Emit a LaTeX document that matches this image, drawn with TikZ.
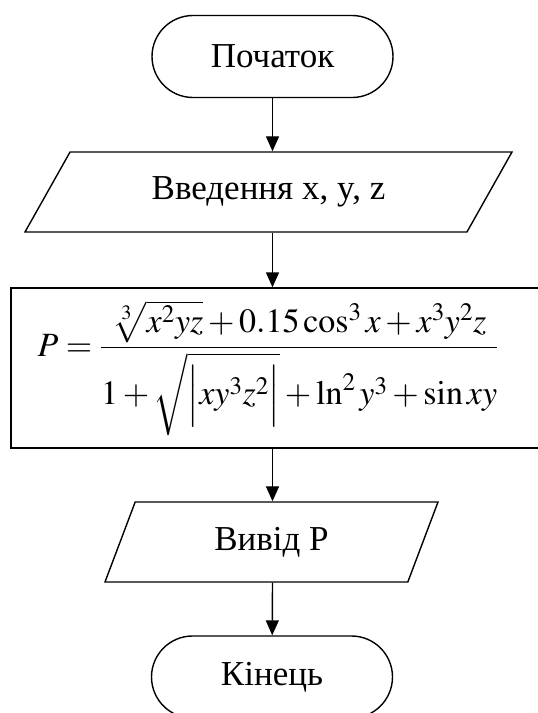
\documentclass[tikz,border=0pt]{standalone}
\usepackage{amsmath}
\usepackage{mathptmx}
\usepackage{fontspec}
\setmainfont{Liberation Serif}
\usetikzlibrary{shapes.geometric, arrows.meta, positioning}

\begin{document}
\begin{tikzpicture}[
    x=1pt, y=-1pt,
    every node/.style={line width=1.4pt, font=\fontsize{35}{40}\selectfont},
    term/.style={rectangle, draw, rounded corners=41pt, minimum width=241pt,
                 minimum height=82pt},
    io/.style={trapezium, draw, trapezium stretches body, minimum height=80pt},
    calc/.style={rectangle, draw, minimum height=160pt, minimum width=540pt,
                 inner sep=0pt, font=\fontsize{34}{38}\selectfont},
    arrow/.style={-{Triangle[length=15pt, width=13pt]}, line width=1.4pt}
]
\clip (0,0) rectangle (538,713);
\node[term] (start) at (272.5,56.5) {Початок};
\node[io, trapezium left angle=39.5, trapezium right angle=140.5,
      minimum width=487pt] (input) at (268.5,192) {Введення x, y, z};
\node[calc] (formula) at (281,368)
  {$\displaystyle P=\frac{\sqrt[3]{x^2yz\rule[-9pt]{0pt}{35pt}}+0.15\cos^3x+x^3y^2z}
     {1+\sqrt{\left|xy^3z^2\rule[-17pt]{0pt}{50pt}\right|}+\ln^2y^3+\sin xy}$\hspace*{26pt}};
\node[io, trapezium left angle=50.5, trapezium right angle=129.5,
      minimum width=333pt] (output) at (271.5,542) {Вивід P};
\node[term] (stop) at (272,677) {Кінець};

\draw[arrow] (start) -- (start |- input.north);
\draw[arrow] (start |- input.south) -- (start |- formula.north);
\draw[arrow] (start |- formula.south) -- (start |- output.north);
\draw[arrow] (start |- output.south) -- (stop);
\end{tikzpicture}
\end{document}
